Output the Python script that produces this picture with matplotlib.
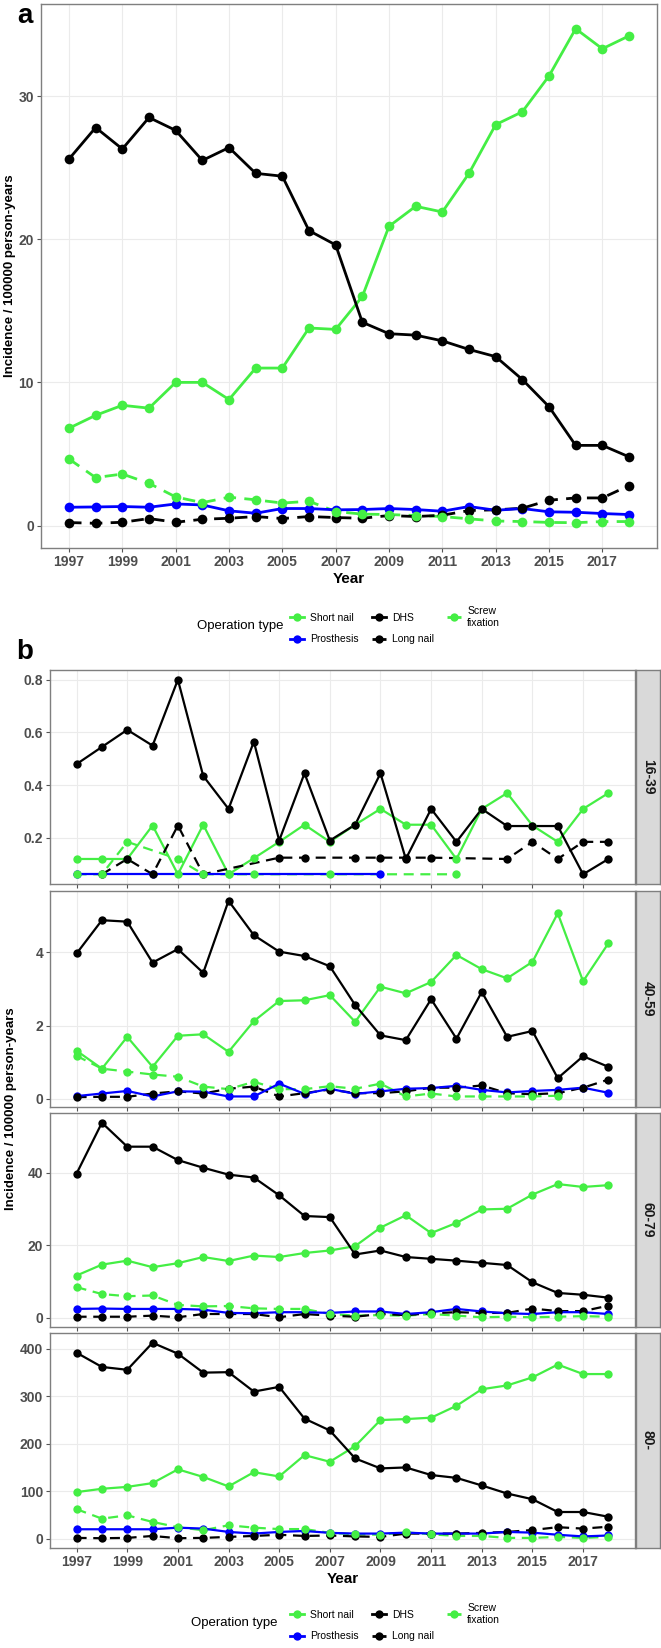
import numpy as np
import matplotlib
matplotlib.use("Agg")
import matplotlib.pyplot as plt
from matplotlib.lines import Line2D

nan = np.nan
years = np.arange(1997, 2019)
xticks = np.arange(1997, 2018, 2)

# panel a, all ages
short_a = [6.8, 7.7, 8.4, 8.2, 10.0, 10.0, 8.8, 11.0, 11.0, 13.8, 13.7, 16.0, 20.9, 22.3, 21.9, 24.6, 28.0, 28.9, 31.4, 34.7, 33.3, 34.2]
dhs_a = [25.6, 27.8, 26.3, 28.5, 27.6, 25.5, 26.4, 24.6, 24.4, 20.6, 19.6, 14.2, 13.4, 13.3, 12.9, 12.3, 11.8, 10.2, 8.3, 5.6, 5.6, 4.8]
screw_a = [4.65, 3.35, 3.6, 2.95, 2.0, 1.6, 1.98, 1.8, 1.57, 1.7, 0.98, 0.8, 0.77, 0.7, 0.63, 0.47, 0.32, 0.28, 0.22, 0.2, 0.28, 0.28]
pros_a = [1.28, 1.3, 1.33, 1.28, 1.51, 1.44, 1.03, 0.86, 1.19, 1.19, 1.1, 1.12, 1.19, 1.12, 1.0, 1.33, 1.07, 1.19, 0.96, 0.93, 0.84, 0.77]
long_a = [0.21, 0.16, 0.23, 0.49, 0.23, 0.44, 0.51, 0.63, 0.49, 0.63, 0.56, 0.51, 0.7, 0.63, 0.72, 1.05, 1.1, 1.21, 1.77, 1.93, 1.93, 2.79]

# panel b, age groups
short_1 = [0.12, 0.12, 0.12, 0.247, 0.062, 0.25, 0.062, 0.123, 0.185, 0.25, 0.185, 0.25, 0.31, 0.25, 0.25, 0.12, 0.31, 0.37, 0.247, 0.185, 0.31, 0.37]
dhs_1 = [0.48, 0.545, 0.61, 0.55, 0.80, 0.435, 0.31, 0.565, 0.19, 0.445, 0.19, 0.25, 0.445, 0.12, 0.31, 0.185, 0.31, 0.245, 0.245, 0.245, 0.062, 0.12]
screw_1 = [0.062, 0.062, 0.185, nan, 0.12, 0.062, 0.062, 0.062, nan, nan, 0.062, nan, nan, nan, nan, 0.062, nan, nan, nan, nan, nan, nan]
pros_1 = [0.062, nan, nan, 0.062, nan, nan, nan, nan, nan, nan, nan, nan, 0.062, nan, nan, nan, nan, nan, nan, nan, nan, nan]
long_1 = [nan, 0.062, 0.12, 0.062, 0.247, 0.062, nan, nan, 0.125, 0.125, nan, 0.125, 0.125, 0.125, 0.125, nan, nan, 0.12, 0.185, 0.12, 0.185, 0.185]

short_2 = [1.31, 0.82, 1.69, 0.87, 1.72, 1.76, 1.28, 2.12, 2.67, 2.69, 2.83, 2.1, 3.06, 2.88, 3.19, 3.93, 3.54, 3.29, 3.74, 5.07, 3.21, 4.25]
dhs_2 = [3.97, 4.88, 4.84, 3.72, 4.09, 3.44, 5.41, 4.47, 4.02, 3.9, 3.62, 2.56, 1.73, 1.6, 2.72, 1.64, 2.92, 1.69, 1.85, 0.56, 1.16, 0.87]
screw_2 = [1.17, 0.82, 0.74, 0.66, 0.6, 0.33, 0.26, 0.46, 0.26, 0.26, 0.34, 0.27, 0.41, 0.06, 0.14, 0.06, 0.06, 0.06, 0.06, 0.08, nan, nan]
pros_2 = [0.07, 0.14, 0.21, 0.06, 0.2, 0.19, 0.06, 0.06, 0.41, 0.13, 0.27, 0.13, 0.2, 0.27, 0.29, 0.35, 0.24, 0.17, 0.21, 0.24, 0.3, 0.16]
long_2 = [0.04, 0.05, 0.05, 0.14, 0.2, 0.14, 0.27, 0.33, 0.06, 0.15, 0.25, 0.15, 0.15, 0.2, 0.3, 0.3, 0.36, 0.15, 0.12, 0.15, 0.3, 0.52]

short_3 = [11.7, 14.7, 15.8, 14.0, 15.1, 16.8, 15.7, 17.2, 16.8, 17.9, 18.6, 19.8, 24.9, 28.3, 23.4, 26.2, 29.9, 30.1, 34.0, 36.9, 36.1, 36.6]
dhs_3 = [39.8, 53.8, 47.2, 47.2, 43.5, 41.4, 39.5, 38.7, 33.8, 28.1, 27.8, 17.5, 18.6, 16.8, 16.3, 15.8, 15.2, 14.6, 9.85, 6.9, 6.4, 5.6]
screw_3 = [8.5, 6.6, 6.0, 6.2, 3.6, 3.2, 3.3, 2.66, 2.5, 2.5, 1.1, 0.65, 0.8, 0.65, 1.1, 0.65, 0.2, 0.35, 0.2, 0.35, 0.5, 0.35]
pros_3 = [2.5, 2.6, 2.5, 2.5, 2.5, 2.3, 1.4, 1.3, 1.6, 1.6, 1.4, 1.8, 1.8, 1.1, 1.6, 2.5, 1.8, 1.3, 1.1, 1.6, 1.6, 1.1]
long_3 = [0.35, 0.35, 0.35, 0.65, 0.2, 1.1, 1.1, 1.1, 0.2, 1.1, 0.65, 0.35, 1.1, 0.8, 1.3, 1.6, 1.4, 1.4, 2.6, 1.9, 1.9, 3.4]

short_4 = [98, 105, 109, 117, 146, 130, 110, 140, 131, 176, 162, 195, 250, 252, 255, 280, 315, 323, 340, 367, 347, 347]
dhs_4 = [392, 362, 356, 413, 390, 350, 351, 310, 320, 253, 228, 169, 148, 150, 134, 128, 112, 95, 83, 56, 56, 46]
screw_4 = [62, 42, 49, 35, 24, 17.5, 28, 23, 20, 20, 12, 9, 8, 13, 9, 5.5, 5.5, 1.4, 1.4, 3.5, 1.4, 3.5]
pros_4 = [19.6, 19.6, 19.6, 19.6, 23, 21, 14, 10.5, 14, 16, 12, 10.5, 10.5, 12.5, 10.5, 10.5, 10.5, 14, 12.5, 8, 4.5, 6.5]
long_4 = [1.4, 0.7, 1.4, 5.5, 0.7, 1.4, 3.5, 5.5, 8, 5.5, 6.5, 4.5, 3.5, 10.5, 10.5, 10.5, 12, 14, 18, 24, 21, 25]

age_groups = ["16-39", "40-59", "60-79", "80-"]
yticks_b = [[0.2, 0.4, 0.6, 0.8], [0, 2, 4], [0, 20, 40], [0, 100, 200, 300, 400]]

GREEN = "#44EE44"
BLUE = "#0000FF"
BLACK = "#000000"
# name: (colour, dashed)
styles = {
    "Short nail": (GREEN, False),
    "Prosthesis": (BLUE, False),
    "DHS": (BLACK, False),
    "Long nail": (BLACK, True),
    "Screw fixation": (GREEN, True),
}
line_order = ["Short nail", "Screw fixation", "DHS", "Long nail", "Prosthesis"]
point_order = ["Short nail", "Prosthesis", "DHS", "Long nail", "Screw fixation"]

SANS = ["Liberation Sans", "DejaVu Sans"]
TICKGREY = "#4D4D4D"

W, H = 661, 1648
fig = plt.figure(figsize=(W / 100, H / 100), dpi=100)


def rect(l, t, r, b):
    return [l / W, 1 - b / H, (r - l) / W, (b - t) / H]


def draw_series(ax, data, lw, ms):
    for name in line_order:
        col, dashed = styles[name]
        y = np.array(data[name], dtype=float)
        ok = ~np.isnan(y)
        ax.plot(years[ok], y[ok], color=col, lw=lw,
                ls=(0, (4.5, 3)) if dashed else "-", zorder=2, solid_capstyle="butt")
    for name in point_order:
        col, dashed = styles[name]
        y = np.array(data[name], dtype=float)
        ok = ~np.isnan(y)
        ax.plot(years[ok], y[ok], ls="none", marker="o", ms=ms, color=col,
                markeredgewidth=0, zorder=3)


def style_axes(ax, show_x):
    ax.margins(x=0.05, y=0.05)
    ax.set_xticks(xticks)
    ax.grid(True, color="#EBEBEB", lw=0.8, zorder=0)
    ax.set_axisbelow(True)
    for s in ax.spines.values():
        s.set_color("#7F7F7F")
        s.set_linewidth(1.0)
    ax.tick_params(direction="out", length=3, width=0.8, color="#555555",
                   labelcolor=TICKGREY, labelsize=10, pad=2)
    for lab in ax.get_xticklabels() + ax.get_yticklabels():
        lab.set_family(SANS)
        lab.set_fontweight("bold")
    if not show_x:
        ax.tick_params(axis="x", labelbottom=False)


def add_legend(y_row1, x_key, x_title):
    handles = []
    labels = []
    for name in ["Short nail", "Prosthesis", "DHS", "Long nail", "Screw fixation"]:
        col, dashed = styles[name]
        handles.append(Line2D([], [], color=col, lw=2, ls=(0, (2, 1.2)) if dashed else "-",
                              marker="o", ms=6, markeredgewidth=0))
        labels.append("Screw\nfixation" if name == "Screw fixation" else name)
    leg = fig.legend(handles, labels, ncol=3, loc="upper left",
                     bbox_to_anchor=(x_key / W, 1 - (y_row1 - 7) / H),
                     frameon=False, handlelength=1.3, handletextpad=0.6,
                     columnspacing=1.3, labelspacing=1.1, borderpad=0,
                     borderaxespad=0, prop={"family": SANS, "size": 7.5})
    fig.text(x_title / W, 1 - (y_row1 + 13) / H, "Operation type", ha="center", va="center",
             family=SANS, fontsize=9.5)
    return leg


# panel a
ax_a = fig.add_axes(rect(41, 4, 657, 548))
draw_series(ax_a, {"Short nail": short_a, "Prosthesis": pros_a, "DHS": dhs_a,
                   "Long nail": long_a, "Screw fixation": screw_a}, lw=2.0, ms=7)
ax_a.set_yticks([0, 10, 20, 30])
style_axes(ax_a, True)
ax_a.set_xlabel("Year", family=SANS, fontweight="bold", fontsize=11, labelpad=2)
fig.text(10 / W, 1 - 276 / H, "Incidence / 100000 person-years", rotation=90,
         ha="center", va="center", family=SANS, fontweight="bold", fontsize=9.5)
fig.text(25 / W, 1 - 16 / H, "a", fontsize=20, fontweight="bold", family=SANS,
         ha="center", va="center")
add_legend(613, 290, 240)

# panel b
fig.text(25 / W, 1 - 652 / H, "b", fontsize=20, fontweight="bold", family=SANS,
         ha="center", va="center")
facets = [(670, 884), (891, 1107), (1113, 1327), (1333, 1548)]
groups = [
    (short_1, pros_1, dhs_1, long_1, screw_1),
    (short_2, pros_2, dhs_2, long_2, screw_2),
    (short_3, pros_3, dhs_3, long_3, screw_3),
    (short_4, pros_4, dhs_4, long_4, screw_4),
]
axes_b = []
for i, ((t, b), g) in enumerate(zip(facets, groups)):
    ax = fig.add_axes(rect(50, t, 635, b))
    data = dict(zip(["Short nail", "Prosthesis", "DHS", "Long nail", "Screw fixation"], g))
    draw_series(ax, data, lw=1.6, ms=6)
    ax.set_yticks(yticks_b[i])
    style_axes(ax, i == 3)
    axes_b.append(ax)
    sax = fig.add_axes(rect(636, t, 660, b))
    sax.set_facecolor("#D9D9D9")
    sax.set_xticks([])
    sax.set_yticks([])
    for s in sax.spines.values():
        s.set_color("#7F7F7F")
        s.set_linewidth(1.0)
    sax.text(0.5, 0.5, age_groups[i], rotation=270, ha="center", va="center",
             transform=sax.transAxes, family=SANS, fontweight="bold", fontsize=10,
             color="#1A1A1A")

axes_b[3].set_xlabel("Year", family=SANS, fontweight="bold", fontsize=11, labelpad=2)
fig.text(11 / W, 1 - 1109 / H, "Incidence / 100000 person-years", rotation=90,
         ha="center", va="center", family=SANS, fontweight="bold", fontsize=9.5)
add_legend(1610, 290, 234)

fig.savefig("out.png", dpi=100, facecolor="white")
